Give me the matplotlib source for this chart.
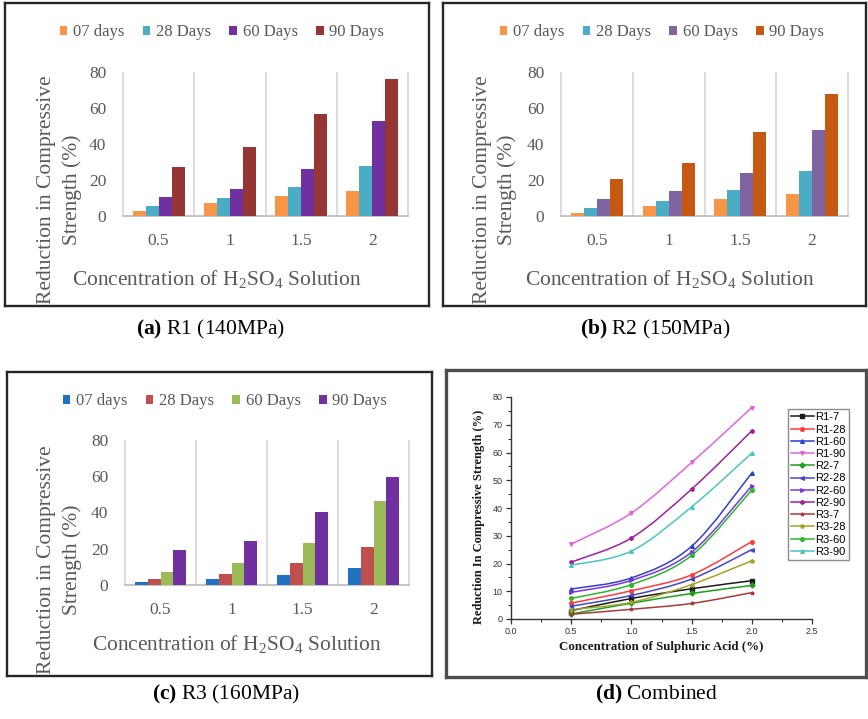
import numpy as np
import matplotlib
matplotlib.use("Agg")
import matplotlib.pyplot as plt
from matplotlib.patches import Patch, PathPatch
from matplotlib.path import Path
from matplotlib.lines import Line2D
from matplotlib.ticker import MultipleLocator

# ---------------------------------------------------------------- data
concentrations = [0.5, 1.0, 1.5, 2.0]
conc_labels = ["0.5", "1", "1.5", "2"]
ages = ["07 days", "28 Days", "60 Days", "90 Days"]

# reduction in compressive strength (%) per mix and curing age
r1_07 = [3.0, 7.4, 10.9, 13.8]
r1_28 = [5.7, 10.2, 15.9, 27.9]
r1_60 = [10.8, 14.8, 26.2, 52.6]
r1_90 = [27.0, 38.2, 56.4, 76.2]

r2_07 = [1.8, 5.7, 9.2, 12.1]
r2_28 = [4.6, 8.5, 14.4, 25.0]
r2_60 = [9.6, 13.9, 24.1, 48.0]
r2_90 = [20.5, 29.2, 46.8, 67.8]

r3_07 = [1.7, 3.5, 5.6, 9.5]
r3_28 = [3.4, 6.0, 12.4, 21.0]
r3_60 = [7.4, 12.4, 22.9, 46.5]
r3_90 = [19.4, 24.5, 40.4, 59.8]

combined_names = ["R1-7", "R1-28", "R1-60", "R1-90",
                  "R2-7", "R2-28", "R2-60", "R2-90",
                  "R3-7", "R3-28", "R3-60", "R3-90"]
combined_values = [r1_07, r1_28, r1_60, r1_90,
                   r2_07, r2_28, r2_60, r2_90,
                   r3_07, r3_28, r3_60, r3_90]

# ---------------------------------------------------------------- style
W, H = 868, 719
plt.rcParams['font.family'] = ['Liberation Serif', 'DejaVu Serif']
plt.rcParams['mathtext.fontset'] = 'custom'
plt.rcParams['mathtext.rm'] = 'Liberation Serif'
plt.rcParams['mathtext.bf'] = 'Liberation Serif:bold'
GRAY = '#595959'

fig = plt.figure(figsize=(W / 100, H / 100), dpi=100)


def fr(x0, y0, x1, y1):
    """Pixel box (top-left origin) -> figure-fraction rect."""
    return [x0 / W, 1 - y1 / H, (x1 - x0) / W, (y1 - y0) / H]


def fp(x, y):
    return (x / W, 1 - y / H)


def frame(x0, y0, x1, y1, lw, color):
    ax = fig.add_axes(fr(x0, y0, x1, y1))
    ax.set_xticks([])
    ax.set_yticks([])
    for s in ax.spines.values():
        s.set_linewidth(lw)
        s.set_color(color)
    ax.set_zorder(0)
    return ax


def bar_panel(box, area, values, colors, legend_xy, xlabel_xy, ylabel_xs, ylabel_y):
    fbox = frame(*box, 1.7, '#262626')
    ax = fig.add_axes(fr(*area))
    ax.set_zorder(1)
    ax.patch.set_alpha(0)
    pos = np.arange(len(conc_labels))
    width = 0.182
    for k, (vals, col, lab) in enumerate(zip(values, colors, ages)):
        ax.bar(pos + (k - 1.5) * width, vals, width, color=col, label=lab, zorder=3)
    ax.set_xlim(-0.5, len(pos) - 0.5)
    ax.set_ylim(0, 80)
    ax.set_yticks([0, 20, 40, 60, 80])
    ax.set_xticks(pos)
    ax.set_xticklabels(conc_labels)
    ax.vlines(np.arange(-0.5, len(pos), 1.0), 0, 80, color='#D9D9D9', lw=1.3,
              zorder=1, clip_on=False)
    for s in ['top', 'right', 'left']:
        ax.spines[s].set_visible(False)
    ax.spines['bottom'].set_color('#BFBFBF')
    ax.spines['bottom'].set_linewidth(1.3)
    ax.tick_params(length=0, pad=12, labelsize=12.5, labelcolor=GRAY)

    handles = [Patch(facecolor=c, edgecolor='none') for c in colors]
    fig.legend(handles, ages, loc='center', bbox_to_anchor=fp(*legend_xy), ncol=4,
               frameon=False, fontsize=12, handlelength=0.45, handleheight=0.45,
               handletextpad=0.35, columnspacing=1.1, labelcolor=GRAY,
               borderaxespad=0, borderpad=0)

    fbox.text(*fp(*xlabel_xy), "Concentration of H$_2$SO$_4$ Solution",
              transform=fig.transFigure, ha='center', va='center',
              fontsize=15.5, color=GRAY, clip_on=True)
    fbox.text(*fp(ylabel_xs[0], ylabel_y), "Reduction in Compressive",
              transform=fig.transFigure, ha='center', va='center', rotation=90,
              fontsize=15.5, color=GRAY, clip_on=True)
    fbox.text(*fp(ylabel_xs[1], ylabel_y), "Strength (%)",
              transform=fig.transFigure, ha='center', va='center', rotation=90,
              fontsize=15.5, color=GRAY, clip_on=True)


# (a) R1
bar_panel((5, 3, 429, 306), (123, 72, 408, 216),
          [r1_07, r1_28, r1_60, r1_90],
          ['#F79646', '#4BACC6', '#7030A0', '#963634'],
          (222, 32), (217, 280), (47, 72), 190)

# (b) R2
bar_panel((443, 3, 866, 306), (561, 72, 848, 216),
          [r2_07, r2_28, r2_60, r2_90],
          ['#F79646', '#4BACC6', '#8064A2', '#C65911'],
          (662, 32), (670, 280), (482, 507), 190)

# (c) R3
bar_panel((7, 372, 432, 676), (125, 440, 409, 585),
          [r3_07, r3_28, r3_60, r3_90],
          ['#2272C3', '#C0504D', '#9BBB59', '#7030A0'],
          (225, 401), (237, 645), (47, 72), 560)


# (d) combined smooth curves
def smooth_path(xs, ys):
    """Cubic Bezier path through the data points (Catmull-Rom tangents)."""
    pts = np.column_stack([xs, ys]).astype(float)
    ext = np.vstack([pts[0], pts, pts[-1]])
    verts = [pts[0]]
    codes = [Path.MOVETO]
    for i in range(len(pts) - 1):
        p0, p1, p2, p3 = ext[i], ext[i + 1], ext[i + 2], ext[i + 3]
        verts += [p1 + (p2 - p0) / 6.0, p2 - (p3 - p1) / 6.0, p2]
        codes += [Path.CURVE4] * 3
    return Path(verts, codes)


line_colors = ['#1a1a1a', '#ff3b3b', '#2f3fd0', '#e066e0',
               '#1f9e1f', '#4646c8', '#7a36dc', '#a0209c',
               '#a83a3a', '#a3a32a', '#2db52d', '#4cc4c4']
line_markers = ['s', 'o', '^', 'v', 'D', '<', '>', 'h', '*', 'p', 'o', '^']

fd = frame(446, 370, 866, 677, 2.4, '#4d4d4d')
axd = fig.add_axes(fr(511, 397, 812, 619))
axd.set_zorder(1)
axd.patch.set_alpha(0)
handles = []
for name, ys, col, mk in zip(combined_names, combined_values, line_colors, line_markers):
    axd.add_patch(PathPatch(smooth_path(concentrations, ys), fill=False,
                            edgecolor=col, lw=1.1))
    axd.plot(concentrations, ys, ls='none', marker=mk, ms=2.6, color=col)
    handles.append(Line2D([], [], color=col, marker=mk, ms=2.6, lw=1.1))

axd.set_xlim(0, 2.5)
axd.set_ylim(0, 80)
axd.xaxis.set_major_locator(MultipleLocator(0.5))
axd.xaxis.set_minor_locator(MultipleLocator(0.25))
axd.yaxis.set_major_locator(MultipleLocator(10))
axd.yaxis.set_minor_locator(MultipleLocator(5))
for s in ['top', 'right']:
    axd.spines[s].set_visible(False)
for s in ['left', 'bottom']:
    axd.spines[s].set_color('#333333')
    axd.spines[s].set_linewidth(1.0)
axd.tick_params(which='major', direction='out', length=3.5, width=0.9,
                labelsize=6.5, pad=2.5, colors='#333333',
                labelfontfamily='Liberation Sans')
axd.tick_params(which='minor', direction='out', length=2, width=0.8, colors='#333333')

leg = axd.legend(handles, combined_names, loc='upper left',
                 bbox_to_anchor=fp(788, 409), bbox_transform=fig.transFigure,
                 prop={'family': 'Liberation Sans', 'size': 8},
                 frameon=True, fancybox=False, edgecolor='#8c8c8c', framealpha=1,
                 borderpad=0.3, labelspacing=0.2, handlelength=2.0,
                 handletextpad=0.15, borderaxespad=0)
leg.get_frame().set_linewidth(1.0)

fd.text(*fp(661, 647), "Concentration of Sulphuric Acid (%)", transform=fig.transFigure,
        ha='center', va='center', fontsize=9.3, fontweight='bold', color='#1a1a1a')
fd.text(*fp(479, 517), "Reduction In Compressive Strength (%)", transform=fig.transFigure,
        ha='center', va='center', rotation=90, fontsize=9, fontweight='bold',
        color='#1a1a1a')

# ---------------------------------------------------------------- captions
captions = [(r"$\mathbf{(a)}$ R1 (140MPa)", 211, 329),
            (r"$\mathbf{(b)}$ R2 (150MPa)", 655, 329),
            (r"$\mathbf{(c)}$ R3 (160MPa)", 226, 694),
            (r"$\mathbf{(d)}$ Combined", 656, 694)]
for txt, x, y in captions:
    fig.text(*fp(x, y), txt, ha='center', va='center', fontsize=15.5, color='black')

fig.savefig("out.png", dpi=100)
